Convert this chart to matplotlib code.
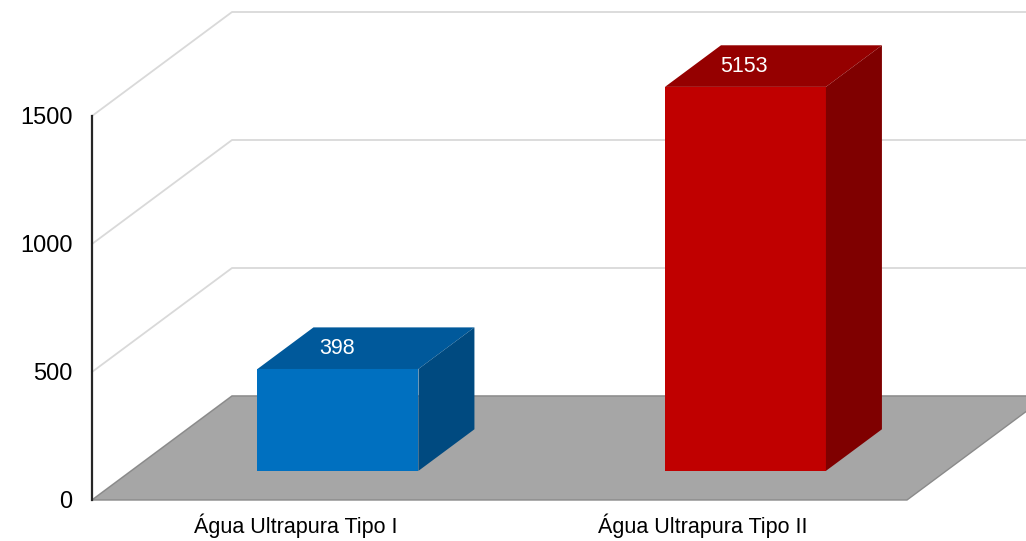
import matplotlib
matplotlib.use("Agg")
import matplotlib.pyplot as plt
from matplotlib.patches import Polygon
from matplotlib.lines import Line2D

plt.rcParams['font.family'] = ['Liberation Sans', 'DejaVu Sans']

categories = ["Água Ultrapura Tipo I", "Água Ultrapura Tipo II"]
values = [398, 5153]
front_colors = ["#0070c0", "#c00000"]
top_colors = ["#00599b", "#950000"]
side_colors = ["#004a80", "#7f0000"]
y_ticks = [0, 500, 1000, 1500]
y_max = 1500

W, H = 1026, 541
fig = plt.figure(figsize=(W / 100, H / 100), dpi=100)
ax_left, ax_bottom, ax_w, ax_h = 92, 41, 815, 384
ax = fig.add_axes([ax_left / W, ax_bottom / H, ax_w / W, ax_h / H])
ax.set_xlim(-0.5, 1.5)
ax.set_ylim(0, y_max)

# depth offsets (full depth = 140 px right, 104 px up) expressed in data units
DX = 140 / (ax_w / 2.0)
DV = 104 / (ax_h / y_max)


def P(x, v, d):
    return (x + DX * d, v + DV * d)


def poly(pts, fc, ec="none", lw=0, z=1):
    p = Polygon(pts, closed=True, facecolor=fc, edgecolor=ec, linewidth=lw,
                clip_on=False, zorder=z)
    ax.add_patch(p)


grid_c = "#d9d9d9"
x0, x1 = -0.5, 1.5
for v in y_ticks:
    pts = [P(x0, v, 0), P(x0, v, 1), P(x1 + 0.5, v, 1)]
    xs, ys = zip(*pts)
    ax.add_line(Line2D(xs, ys, color=grid_c, lw=1.3, clip_on=False, zorder=0.5))

# floor
poly([P(x0, 0, 0), P(x1, 0, 0), P(x1, 0, 1), P(x0, 0, 1)], "#a6a6a6", "#8a8a8a", 1.0, z=1)

# bars
bw = 0.395
d0, d1 = 0.28, 0.68
xshift = 3 / (ax_w / 2.0)
for i, (cat, val) in enumerate(zip(categories, values)):
    h = min(val, y_max)
    l, r = i - bw / 2 + xshift, i + bw / 2 + xshift
    poly([P(l, 0, d0), P(r, 0, d0), P(r, h, d0), P(l, h, d0)], front_colors[i], z=3)
    poly([P(l, h, d0), P(r, h, d0), P(r, h, d1), P(l, h, d1)], top_colors[i], z=3)
    poly([P(r, 0, d0), P(r, 0, d1), P(r, h, d1), P(r, h, d0)], side_colors[i], z=3)
    ax.annotate(str(val), xy=(i, h), xytext=(41, 50), textcoords="offset pixels",
                ha="center", va="center", color="white", fontsize=15.5,
                zorder=5, annotation_clip=False)

# left axis line
ax.add_line(Line2D([x0, x0], [0, y_max], color="#262626", lw=1.6, clip_on=False, zorder=4))

for s in ax.spines.values():
    s.set_visible(False)
ax.set_yticks(y_ticks)
ax.set_yticklabels([str(t) for t in y_ticks])
ax.set_xticks(range(len(categories)))
ax.set_xticklabels(categories)
ax.tick_params(axis="y", length=0, pad=14, labelsize=17, colors="black")
ax.tick_params(axis="x", length=0, pad=10, labelsize=15.5, colors="black")
ax.patch.set_visible(False)

fig.savefig("out.png", dpi=100)
